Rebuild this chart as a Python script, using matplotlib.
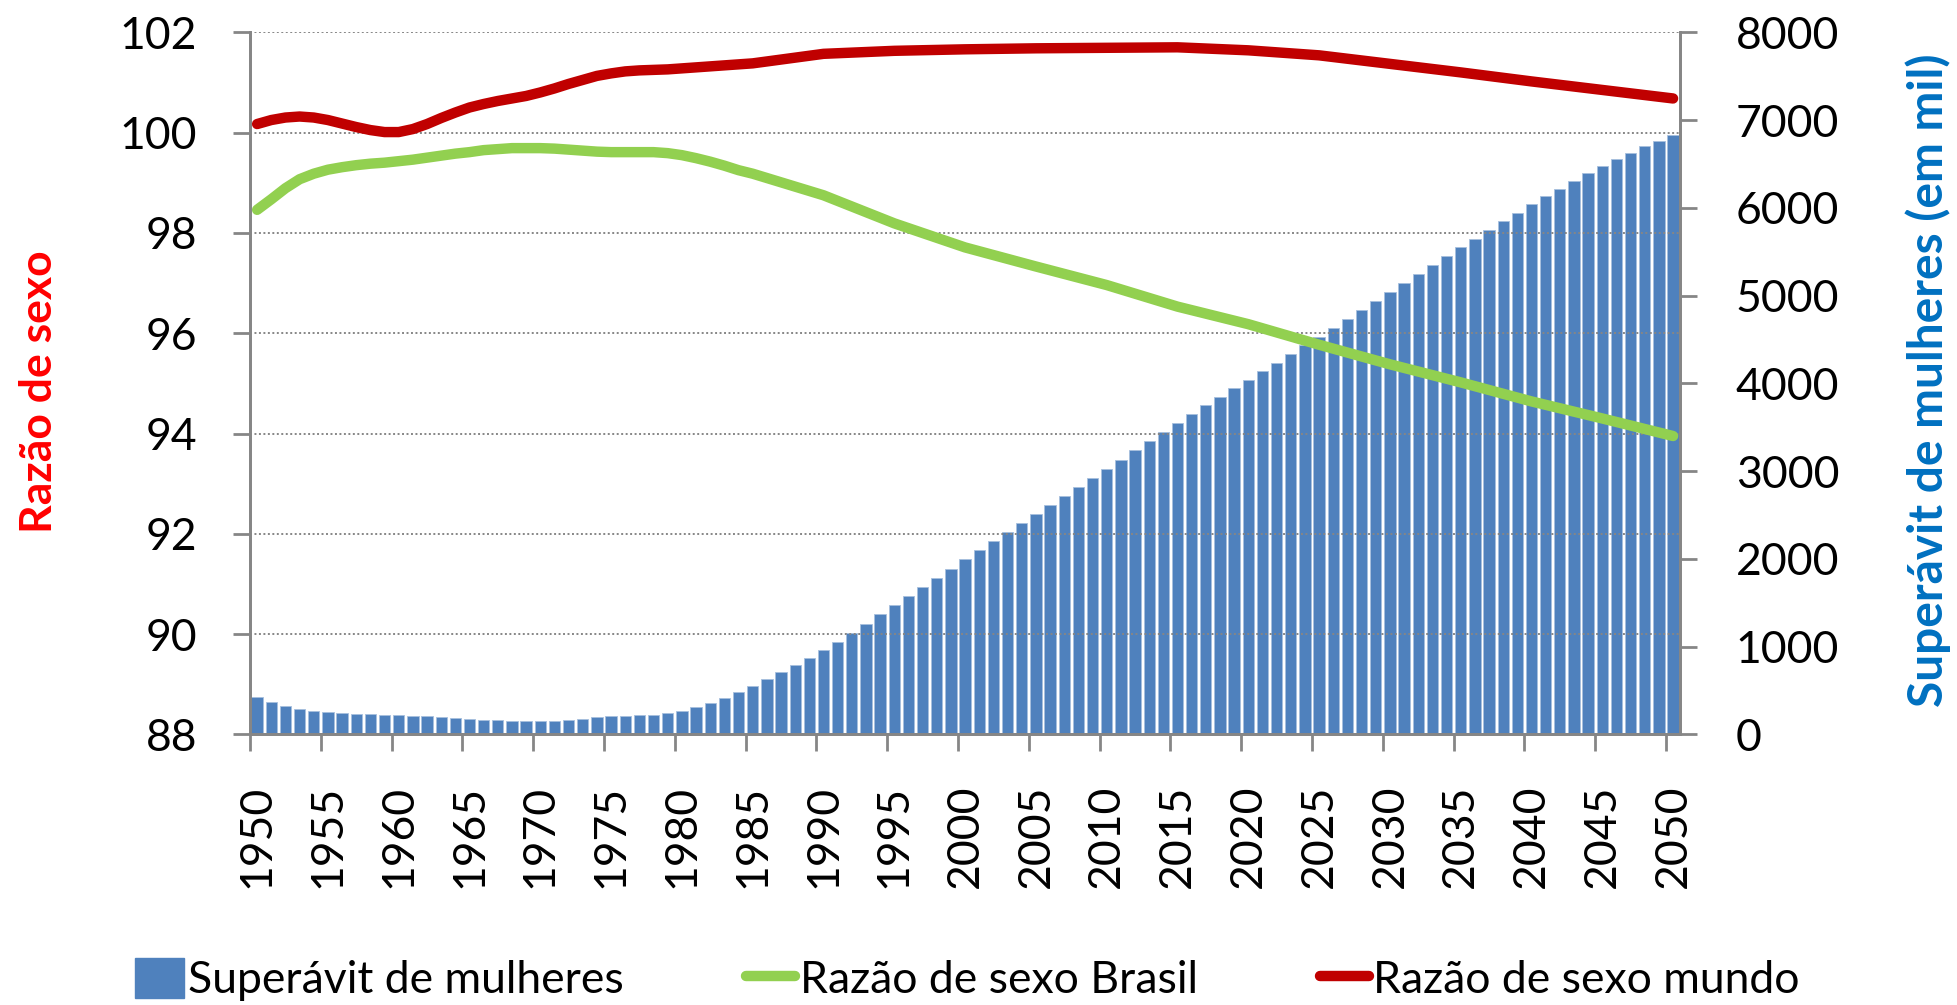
import matplotlib
matplotlib.use("Agg")
import matplotlib.pyplot as plt
from matplotlib.patches import Patch
from matplotlib.lines import Line2D
import numpy as np

plt.rcParams['font.family'] = ['Lato', 'DejaVu Sans']

# ---- data ----
years = list(range(1950, 2051))
superavit = [422, 369, 323, 289, 266, 251, 240, 232, 228, 224,
             221, 213, 209, 198, 186, 175, 167, 160, 152, 148,
             148, 152, 163, 179, 194, 205, 213, 217, 221, 240,
             266, 308, 354, 414, 483, 555, 627, 707, 789, 873,
             960, 1059, 1158, 1260, 1367, 1471, 1578, 1681, 1783, 1890,
             1996, 2099, 2205, 2308, 2411, 2513, 2616, 2719, 2817, 2920,
             3023, 3129, 3236, 3342, 3449, 3551, 3654, 3749, 3844, 3943,
             4038, 4137, 4236, 4338, 4437, 4533, 4635, 4736, 4838, 4939,
             5038, 5141, 5243, 5346, 5449, 5551, 5650, 5745, 5848, 5943,
             6042, 6129, 6217, 6304, 6392, 6475, 6555, 6627, 6703, 6764,
             6829]

line_years = list(range(1950, 1985)) + list(range(1985, 2051, 5))
razao_mundo = [100.17, 100.25, 100.30, 100.32, 100.30, 100.25, 100.18, 100.11, 100.05, 100.01,
               100.01, 100.07, 100.17, 100.29, 100.40, 100.50, 100.57, 100.63, 100.68, 100.73,
               100.80, 100.88, 100.97, 101.05, 101.13, 101.18, 101.22, 101.24, 101.25, 101.26,
               101.28, 101.30, 101.32, 101.34, 101.36,
               101.38, 101.57, 101.63, 101.66, 101.68, 101.69, 101.70, 101.64, 101.54, 101.37,
               101.20, 101.02, 100.85, 100.68]
razao_brasil = [98.46, 98.67, 98.89, 99.07, 99.18, 99.26, 99.31, 99.35, 99.38, 99.40,
                99.43, 99.46, 99.50, 99.54, 99.58, 99.61, 99.65, 99.67, 99.69, 99.69,
                99.69, 99.68, 99.66, 99.64, 99.62, 99.61, 99.61, 99.61, 99.61, 99.59,
                99.55, 99.49, 99.42, 99.34, 99.25,
                99.18, 98.75, 98.19, 97.71, 97.33, 96.96, 96.53, 96.18, 95.77, 95.38,
                95.02, 94.64, 94.30, 93.95]

label_years = list(range(1950, 2051, 5))

# ---- styles ----
GRAY = '#868686'
BLUE = '#4F81BD'
GREEN = '#92D050'
RED = '#C00000'

fig = plt.figure(figsize=(19.58, 10.05), dpi=100)
ax = fig.add_axes([0.1277, 0.2692, 0.7304, 0.6987])
ax2 = ax.twinx()

xb = np.array(years) - years[0]
ax2.bar(xb, superavit, width=0.8, color=BLUE, edgecolor='#A7BFDE', linewidth=0.6, zorder=1)

xl = np.array(line_years) - years[0]
ax.plot(xl, razao_brasil, color=GREEN, lw=7.5, solid_capstyle='round', solid_joinstyle='round', zorder=3)
ax.plot(xl, razao_mundo, color=RED, lw=7.5, solid_capstyle='round', solid_joinstyle='round', zorder=4)

ax.set_zorder(ax2.get_zorder() + 1)
ax.patch.set_visible(False)

ax.set_xlim(-0.5, len(years) - 0.5)
ax.set_ylim(88, 102)
ax2.set_ylim(0, 8000)
ax.set_yticks(np.arange(88, 102.1, 2))
ax2.set_yticks(np.arange(0, 8001, 1000))

ax.yaxis.grid(True, color=GRAY, linestyle=(0, (1, 1.3)), linewidth=1.4)
ax.set_axisbelow(False)

# x ticks: labels at category centres, marks at category boundaries
ax.set_xticks([y - years[0] for y in label_years])
ax.set_xticklabels([str(y) for y in label_years], rotation=90)
ax.set_xticks(np.arange(-0.5, len(years) - 1, 5), minor=True)
ax.tick_params(axis='x', which='major', length=0, pad=36, labelsize=32)
ax.tick_params(axis='x', which='minor', length=12, width=2, color=GRAY)
ax.tick_params(axis='y', length=12, width=2, color=GRAY, pad=26, labelsize=32)
ax2.tick_params(axis='y', length=12, width=2, color=GRAY, pad=28, labelsize=32)

for a in (ax, ax2):
    a.spines['top'].set_visible(False)
    for s in ('left', 'right', 'bottom'):
        a.spines[s].set_color(GRAY)
        a.spines[s].set_linewidth(2)

fig.text(0.020, 0.61, 'Razão de sexo', rotation=90, color='#FF0000', fontsize=32,
         fontweight='bold', ha='center', va='center')
fig.text(0.985, 0.622, 'Superávit de mulheres (em mil)', rotation=90, color='#0070C0',
         fontsize=34.5, fontweight='bold', ha='center', va='center')

handles = [Patch(facecolor=BLUE, edgecolor=BLUE),
           Line2D([0], [0], color=GREEN, lw=7.5, solid_capstyle='round'),
           Line2D([0], [0], color=RED, lw=7.5, solid_capstyle='round')]
labels = ['Superávit de mulheres', 'Razão de sexo Brasil', 'Razão de sexo mundo']
fig.legend(handles, labels, loc='center', bbox_to_anchor=(0.494, 0.025), ncol=3, frameon=False,
           fontsize=32, handlelength=1.1, handleheight=1.0, handletextpad=0.1, columnspacing=2.75)

fig.savefig('out.png', dpi=100)
